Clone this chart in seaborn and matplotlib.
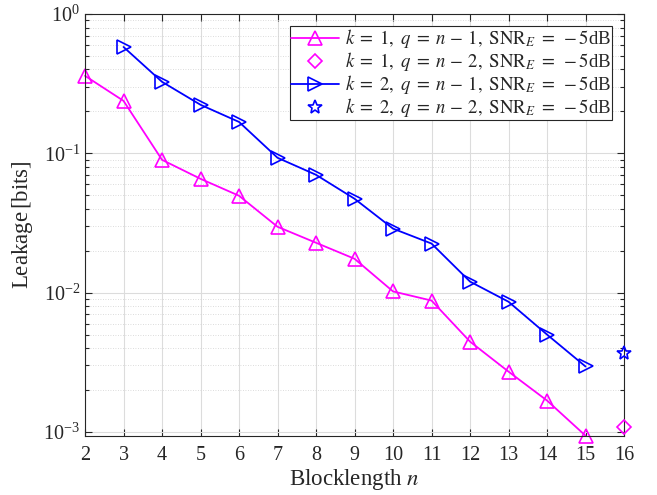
import numpy as np
import pandas as pd
import matplotlib
matplotlib.use("Agg")
import matplotlib.pyplot as plt
import seaborn as sns

# data
n_k1 = [2, 3, 4, 5, 6, 7, 8, 9, 10, 11, 12, 13, 14, 15]
leak_k1_q1 = [0.36, 0.238, 0.0898, 0.0656, 0.0496, 0.0297, 0.0228, 0.0175,
              0.0102, 0.00877, 0.00445, 0.00271, 0.00168, 0.00094]
n_k2 = [3, 4, 5, 6, 7, 8, 9, 10, 11, 12, 13, 14, 15]
leak_k2_q1 = [0.58, 0.326, 0.223, 0.168, 0.0929, 0.0701, 0.0472, 0.0288,
              0.0225, 0.012, 0.0086, 0.0050, 0.00295]
n_q2 = [16]
leak_k1_q2 = [0.00108]
leak_k2_q2 = [0.00366]

labels = [r"$k\;=\;1,\ q\;=\;n\,-\,1,\ \mathrm{SNR}_E\;=\;-5$dB",
          r"$k\;=\;1,\ q\;=\;n\,-\,2,\ \mathrm{SNR}_E\;=\;-5$dB",
          r"$k\;=\;2,\ q\;=\;n\,-\,1,\ \mathrm{SNR}_E\;=\;-5$dB",
          r"$k\;=\;2,\ q\;=\;n\,-\,2,\ \mathrm{SNR}_E\;=\;-5$dB"]

sns.set_style("ticks")
plt.rcParams['font.family'] = ['Liberation Serif', 'DejaVu Serif']
plt.rcParams['mathtext.fontset'] = 'stix'

fig = plt.figure(figsize=(6.57, 4.95), dpi=100)
ax = fig.add_axes([0.1294, 0.1192, 0.8204, 0.8525])

df1 = pd.DataFrame({'n': n_k1, 'leak': leak_k1_q1})
df2 = pd.DataFrame({'n': n_k2, 'leak': leak_k2_q1})

sns.lineplot(data=df1, x='n', y='leak', ax=ax, color='#FF00FF', lw=1.3,
             marker='^', markersize=10, markerfacecolor='none',
             markeredgecolor='#FF00FF', markeredgewidth=1.2, label=labels[0])
ax.plot(n_q2, leak_k1_q2, ls='none', marker='D', markersize=7,
        markerfacecolor='none', markeredgecolor='#FF00FF', markeredgewidth=1.2,
        label=labels[1], clip_on=False, zorder=5)
sns.lineplot(data=df2, x='n', y='leak', ax=ax, color='#0000FF', lw=1.3,
             marker='>', markersize=10, markerfacecolor='none',
             markeredgecolor='#0000FF', markeredgewidth=1.2, label=labels[2])
ax.plot(n_q2, leak_k2_q2, ls='none', marker='*', markersize=10,
        markerfacecolor='none', markeredgecolor='#0000FF', markeredgewidth=1.2,
        label=labels[3], clip_on=False, zorder=5)

for line in ax.lines:
    line.set_clip_on(False)

ax.set_yscale('log')
ax.set_xlim(2, 16)
ax.set_ylim(9.35e-4, 1)
ax.set_xticks(range(2, 17))
ax.tick_params(axis='both', which='both', direction='in', top=True, right=True,
               labelsize=14.5, colors='#262626', width=0.8)
ax.tick_params(axis='x', pad=7)
ax.tick_params(which='major', length=5)
ax.tick_params(which='minor', length=3)
ax.grid(True, which='major', color='#dcdcdc', lw=0.8, ls='-')
ax.grid(True, which='minor', axis='y', color='#d0d0d0', lw=0.6, ls=(0, (1, 2)))
ax.set_axisbelow(True)
for s in ax.spines.values():
    s.set_color('#262626')
    s.set_linewidth(0.8)

ax.set_xlabel(r"Blocklength $n$", fontsize=16.5, color='#262626', labelpad=2)
ax.set_ylabel(r"Leakage$\,$[bits]", fontsize=16.5, color='#262626', labelpad=6)

leg = ax.legend(loc='upper right', fontsize=13.5, frameon=True, fancybox=False,
                edgecolor='#262626', framealpha=1, borderpad=0.05,
                labelspacing=0.0, handlelength=2.55, handletextpad=0.3,
                borderaxespad=0.65)
leg.get_frame().set_linewidth(0.8)

fig.savefig('out.png', dpi=100)
